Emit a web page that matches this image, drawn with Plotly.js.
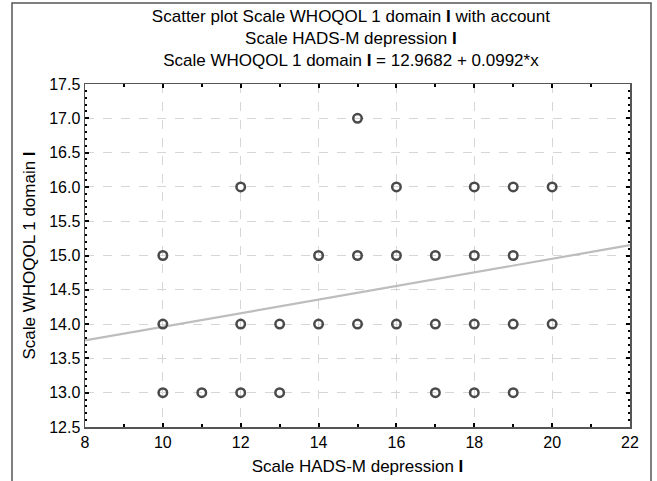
<!DOCTYPE html>
<html>
<head>
<meta charset="utf-8">
<script src="https://cdn.plot.ly/plotly-3.0.1.min.js"></script>
<style>html,body{margin:0;padding:0;background:#fff;}#chart{width:657px;height:481px;}</style>
</head>
<body>
<div id="chart"></div>
<script>
// Observed points (HADS-M depression I, WHOQOL 1 domain I)
const hadsX = [15, 12, 16, 18, 19, 20, 10, 14, 15, 16, 17, 18, 19, 10, 12, 13, 14, 15, 16, 17, 18, 19, 20, 10, 11, 12, 13, 17, 18, 19];
const whoqolY = [17, 16, 16, 16, 16, 16, 15, 15, 15, 15, 15, 15, 15, 14, 14, 14, 14, 14, 14, 14, 14, 14, 14, 13, 13, 13, 13, 13, 13, 13];
// Regression: y = 12.9682 + 0.0992*x
const intercept = 12.9682;
const slope = 0.0992;
const fitX = [8, 22];
const fitY = fitX.map(x => intercept + slope * x);

const titleLines = [
  "Scatter plot Scale WHOQOL 1 domain <b>I</b> with account",
  "Scale HADS-M depression <b>I</b>",
  "Scale WHOQOL 1 domain <b>I</b> = 12.9682 + 0.0992*x"
];
const xTitle = "Scale HADS-M depression <b>I</b>";
const yTitle = "Scale WHOQOL 1 domain <b>I</b>";

const L = 85, R = 27, T = 84, B = 54, W = 657, H = 481;
const pw = W - L - R, ph = H - T - B;

const fam = "Liberation Sans, Arial, sans-serif";
const tickFont = {family: fam, size: 16, color: "#000"};
const titleFont = {family: fam, size: 17, color: "#000"};

const data = [
  {x: fitX, y: fitY, type: "scatter", mode: "lines",
   line: {color: "#bdbdbd", width: 2.2}, hoverinfo: "skip"},
  {x: hadsX, y: whoqolY, type: "scatter", mode: "markers",
   marker: {symbol: "circle-open", size: 8.5, color: "#4a4a4a", line: {width: 2.5, color: "#4a4a4a"}}}
];

const axisCommon = {
  showline: true, linecolor: "#555", linewidth: 1.5, mirror: "ticks",
  ticks: "inside", ticklen: 4, tickwidth: 2, tickcolor: "#000",
  showgrid: true, gridcolor: "#d6d6d6", griddash: "dash", gridwidth: 1,
  zeroline: false, tickfont: tickFont
};

const layout = {
  width: W, height: H,
  margin: {l: L, r: R, t: T, b: B},
  paper_bgcolor: "#fff", plot_bgcolor: "#fff",
  showlegend: false,
  font: tickFont,
  title: {text: titleLines.join("<br>"), font: {family: fam, size: 17, color: "#000"},
          x: (L + pw / 2) / W - 0.01, xanchor: "center", xref: "container",
          y: 1 - 22 / H, yanchor: "top", yref: "container"},
  xaxis: Object.assign({}, axisCommon, {
    range: [8, 22], tick0: 8, dtick: 2,
    minor: {dtick: 1, ticks: "inside", ticklen: 3, tickcolor: "#000", showgrid: false},
    title: {text: xTitle, font: titleFont, standoff: 10}
  }),
  yaxis: Object.assign({}, axisCommon, {
    range: [12.5, 17.5], tick0: 12.5, dtick: 0.5, tickformat: ".1f",
    minor: {dtick: 0.1, ticks: "inside", ticklen: 2, tickcolor: "#000", showgrid: false},
    title: {text: yTitle, font: titleFont, standoff: 9}
  }),
  shapes: [{
    type: "rect", xref: "paper", yref: "paper",
    x0: (12 - L) / pw, x1: (651 - L) / pw,
    y0: (T + ph - 520) / ph, y1: (T + ph - 3) / ph,
    line: {color: "#555", width: 1.5}, fillcolor: "rgba(0,0,0,0)", layer: "below"
  }]
};

Plotly.newPlot("chart", data, layout, {displayModeBar: false, staticPlot: true});
</script>
</body>
</html>
